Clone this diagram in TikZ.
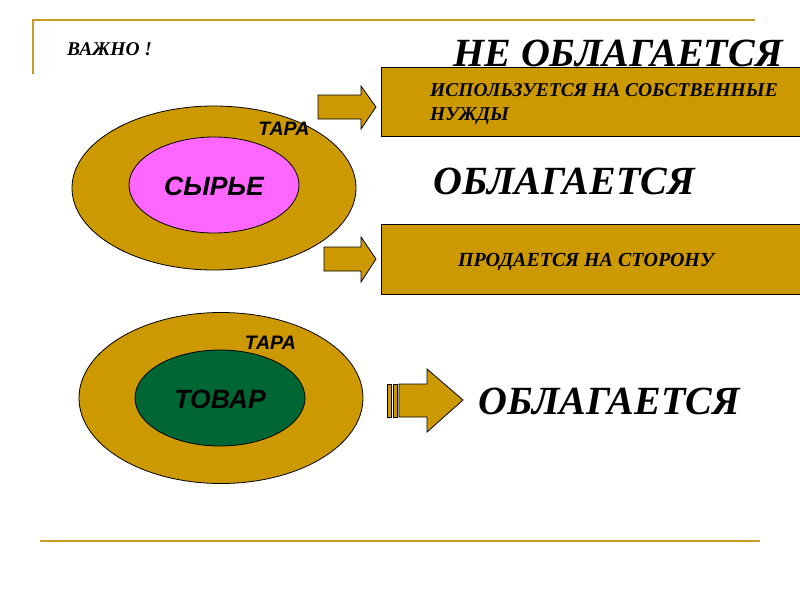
\documentclass[tikz,border=0pt]{standalone}
\usepackage{fontspec}
\setmainfont{Liberation Serif}
\newfontfamily\arialf{Liberation Sans}
\usetikzlibrary{shapes.geometric}
\definecolor{gold}{RGB}{204,153,0}
\definecolor{frameline}{RGB}{200,156,32}
\definecolor{pinkfill}{RGB}{255,102,255}
\definecolor{greenfill}{RGB}{0,102,51}
\tikzset{
  goldbox/.style={draw=black, line width=0.8pt, fill=gold},
  arrowshape/.style={draw=black, line width=0.8pt, fill=gold},
  outerell/.style={ellipse, draw=black, line width=0.8pt, fill=gold, inner sep=0pt},
  serifbi/.style={font=\bfseries\itshape, text=black, inner sep=0pt},
  sansbi/.style={font=\arialf\bfseries\itshape, text=black, inner sep=0pt},
  frame/.style={draw=frameline, line width=2pt}
}
\begin{document}
\begin{tikzpicture}[x=1pt,y=-1pt]
\useasboundingbox (0,0) rectangle (800,600);
\fill[white] (0,0) rectangle (800,600);
% frame lines
\draw[frame] (33,74) -- (33,20) -- (755,20);
\draw[frame] (40,541) -- (760,541);
% title texts
\node[serifbi, anchor=west, font=\fontsize{19.5}{22}\selectfont\bfseries\itshape] (vazhno) at (67,49) {ВАЖНО !};
% box 1
\draw[goldbox] (381,67) rectangle (800,136);
\node[serifbi, anchor=base west, font=\fontsize{40}{44}\selectfont\bfseries\itshape] (neobl) at (453,66) {НЕ ОБЛАГАЕТСЯ};
\node[serifbi, anchor=north west, align=left, font=\fontsize{19.5}{24}\selectfont\bfseries\itshape] (box1) at (430,83) {ИСПОЛЬЗУЕТСЯ НА СОБСТВЕННЫЕ\\НУЖДЫ};
% arrow 1
\draw[arrowshape] (318,95) -- (361,95) -- (361,86) -- (376,107) -- (361,129) -- (361,119) -- (318,119) -- cycle;
% middle label
\node[serifbi, anchor=west, font=\fontsize{40}{44}\selectfont\bfseries\itshape] (obl1) at (433,181) {ОБЛАГАЕТСЯ};
% box 2
\draw[goldbox] (381,224) rectangle (800,294);
\node[serifbi, font=\fontsize{20}{22}\selectfont\bfseries\itshape] (box2) at (586,262) {ПРОДАЕТСЯ НА СТОРОНУ};
% arrow 2
\draw[arrowshape] (324,247) -- (361,247) -- (361,237) -- (376,259) -- (361,282) -- (361,271) -- (324,271) -- cycle;
% ellipse 1
\node[outerell, minimum width=284, minimum height=164] (outer1) at (214,188) {};
\node[ellipse, draw=black, line width=0.8pt, fill=pinkfill, minimum width=170, minimum height=96, inner sep=0pt] (inner1) at (214,185) {};
\node[sansbi, font=\arialf\fontsize{26.5}{28}\selectfont\bfseries\itshape] (syrie) at (214,186) {СЫРЬЕ};
\node[sansbi, font=\arialf\fontsize{19.5}{20}\selectfont\bfseries\itshape] (tara1) at (284,129) {ТАРА};
% ellipse 2
\node[outerell, minimum width=284, minimum height=171] (outer2) at (221,398) {};
\node[ellipse, draw=black, line width=0.8pt, fill=greenfill, minimum width=170, minimum height=96, inner sep=0pt] (inner2) at (220,398) {};
\node[sansbi, font=\arialf\fontsize{26.5}{28}\selectfont\bfseries\itshape] (tovar) at (220,399) {ТОВАР};
\node[sansbi, font=\arialf\fontsize{19.5}{20}\selectfont\bfseries\itshape] (tara2) at (270.5,343) {ТАРА};
% arrow 3 striped
\draw[arrowshape] (387,384) rectangle (391,417);
\draw[arrowshape] (393,384) rectangle (397,417);
\draw[arrowshape] (399,384) -- (427,384) -- (427,369) -- (463,400) -- (427,432) -- (427,417) -- (399,417) -- cycle;
\node[serifbi, anchor=west, font=\fontsize{40}{44}\selectfont\bfseries\itshape] (obl2) at (478,401) {ОБЛАГАЕТСЯ};
\end{tikzpicture}
\end{document}
